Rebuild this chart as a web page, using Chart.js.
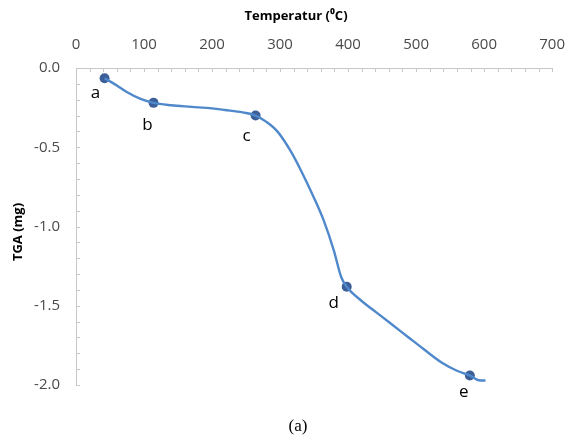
<!DOCTYPE html>
<html>
<head>
<meta charset="utf-8">
<script src="https://cdn.jsdelivr.net/npm/chart.js@4.4.0/dist/chart.umd.min.js"></script>
<style>
  html, body { margin: 0; padding: 0; background: #fff; }
  #wrap { width: 579px; height: 445px; position: relative; }
</style>
</head>
<body>
<div id="wrap"><canvas id="tga"></canvas></div>
<script>
// TGA curve
const temperature = [42, 60, 74, 95, 114, 140, 170, 200, 219, 245, 264, 280, 296, 315, 330, 350, 364, 379, 390, 398, 420, 441, 465, 489, 510, 538, 560, 579, 592, 602];
const tgaMass = [-0.065, -0.11, -0.15, -0.195, -0.22, -0.235, -0.245, -0.255, -0.265, -0.28, -0.30, -0.34, -0.40, -0.52, -0.64, -0.82, -0.96, -1.15, -1.32, -1.38, -1.47, -1.54, -1.62, -1.70, -1.77, -1.86, -1.91, -1.94, -1.97, -1.972];

// marked stages
const stageNames = ['a', 'b', 'c', 'd', 'e'];
const stageTemp = [42, 114, 264, 398, 579];
const stageMass = [-0.065, -0.22, -0.30, -1.38, -1.94];

const xTitle = 'Temperatur (\u2070C)';
const yTitle = 'TGA (mg)';
const caption = '(a)';

// label offsets from each marker, px
const labelOffsets = [[-9, 15], [-6, 22], [-9, 21], [-13, 16], [-6, 17]];

const axisGrey = '#c8c8c8';

// inward ticks, titles, letters and caption
const extras = {
  id: 'extras',
  afterDraw(chart) {
    const ctx = chart.ctx;
    const xs = chart.scales.x, ys = chart.scales.y;
    const area = chart.chartArea;
    ctx.save();
    ctx.strokeStyle = axisGrey;
    ctx.lineWidth = 1;
    ctx.beginPath();
    for (let v = 0; v <= 700; v += 20) {
      const px = Math.round(xs.getPixelForValue(v)) + 0.5;
      ctx.moveTo(px, area.top);
      ctx.lineTo(px, area.top + 4);
    }
    for (let i = 0; i <= 20; i++) {
      const py = Math.round(ys.getPixelForValue(-i / 10)) + 0.5;
      ctx.moveTo(area.left, py);
      ctx.lineTo(area.left + 4, py);
    }
    ctx.stroke();

    ctx.fillStyle = '#000';
    ctx.font = 'bold 13px "Open Sans"';
    ctx.textAlign = 'center';
    ctx.textBaseline = 'middle';
    ctx.fillText(xTitle, 296, 16);

    ctx.save();
    ctx.translate(18, 232);
    ctx.rotate(-Math.PI / 2);
    ctx.fillText(yTitle, 0, 0);
    ctx.restore();

    ctx.font = '17px "Open Sans"';
    stageNames.forEach((n, i) => {
      const px = xs.getPixelForValue(stageTemp[i]) + labelOffsets[i][0];
      const py = ys.getPixelForValue(stageMass[i]) + labelOffsets[i][1];
      ctx.fillText(n, px, py);
    });

    ctx.font = '17px "Liberation Serif"';
    ctx.fillText(caption, 298, 427);
    ctx.restore();
  }
};

new Chart(document.getElementById('tga'), {
  type: 'line',
  data: {
    datasets: [
      {
        data: temperature.map((t, i) => ({ x: t, y: tgaMass[i] })),
        borderColor: '#4f88cb',
        borderWidth: 2.4,
        pointRadius: 0,
        cubicInterpolationMode: 'monotone',
        fill: false
      },
      {
        data: stageTemp.map((t, i) => ({ x: t, y: stageMass[i] })),
        showLine: false,
        pointRadius: 5,
        pointBackgroundColor: '#3c5f98',
        pointBorderColor: '#3c5f98',
        pointBorderWidth: 0
      }
    ]
  },
  options: {
    responsive: true,
    maintainAspectRatio: false,
    animation: false,
    layout: { padding: { left: 0, right: 21, top: 0, bottom: 60 } },
    plugins: { legend: { display: false }, tooltip: { enabled: false } },
    scales: {
      x: {
        type: 'linear',
        position: 'top',
        min: 0,
        max: 700,
        ticks: {
          stepSize: 100,
          padding: 14,
          color: '#4a4a4a',
          font: { family: 'Open Sans', size: 15 }
        },
        grid: { drawOnChartArea: false, drawTicks: false },
        border: { color: axisGrey },
        afterFit(s) { s.height = 68; }
      },
      y: {
        min: -2,
        max: 0,
        ticks: {
          stepSize: 0.5,
          padding: 16,
          color: '#4a4a4a',
          font: { family: 'Open Sans', size: 15 },
          callback: v => v.toFixed(1)
        },
        grid: { drawOnChartArea: false, drawTicks: false },
        border: { color: axisGrey },
        afterFit(s) { s.width = 76; }
      }
    }
  },
  plugins: [extras]
});
</script>
</body>
</html>
